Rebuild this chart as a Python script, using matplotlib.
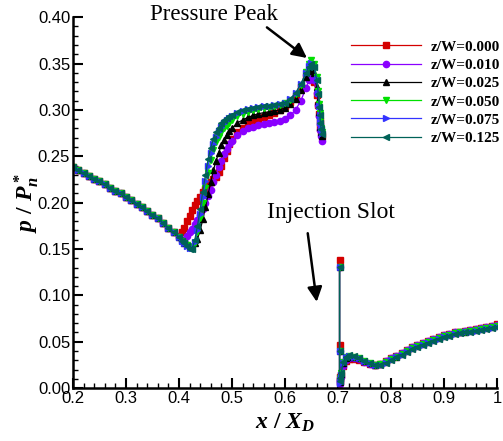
import matplotlib
matplotlib.use("Agg")
import matplotlib.pyplot as plt
import numpy as np

plt.rcParams['mathtext.fontset'] = 'custom'
plt.rcParams['mathtext.it'] = 'Liberation Serif:italic:bold'
plt.rcParams['mathtext.rm'] = 'Liberation Serif:bold'
plt.rcParams['mathtext.bf'] = 'Liberation Serif:bold'

# shared upstream part (all cases overlap here)
x_common = [0.20, 0.21, 0.22, 0.23, 0.24, 0.25, 0.26, 0.27, 0.28, 0.29,
            0.30, 0.31, 0.32, 0.33, 0.34, 0.35, 0.36, 0.37, 0.38]
y_common = [0.238, 0.235, 0.232, 0.229, 0.226, 0.223, 0.220, 0.216, 0.213, 0.210,
            0.206, 0.203, 0.199, 0.195, 0.191, 0.187, 0.183, 0.178, 0.173]

# separation / peak region
x_up = [0.39, 0.40, 0.405, 0.41, 0.415, 0.42, 0.425, 0.43, 0.435, 0.44,
        0.445, 0.45, 0.455, 0.46, 0.465, 0.47, 0.475, 0.48, 0.485, 0.49,
        0.495, 0.50, 0.51, 0.52, 0.53, 0.54, 0.55, 0.56, 0.57, 0.58,
        0.59, 0.60, 0.61, 0.62, 0.63, 0.64, 0.645, 0.65, 0.655, 0.66,
        0.663, 0.665, 0.666, 0.667, 0.668, 0.669]
up_000 = [0.168, 0.164, 0.168, 0.173, 0.180, 0.186, 0.192, 0.197, 0.202, 0.206,
          0.211, 0.215, 0.219, 0.222, 0.225, 0.228, 0.233, 0.240, 0.248, 0.256,
          0.263, 0.269, 0.276, 0.281, 0.285, 0.288, 0.290, 0.292, 0.295, 0.297,
          0.300, 0.304, 0.309, 0.315, 0.325, 0.336, 0.340, 0.338, 0.330, 0.316,
          0.305, 0.296, 0.288, 0.281, 0.276, 0.272]
up_010 = [0.168, 0.163, 0.159, 0.160, 0.164, 0.168, 0.172, 0.177, 0.181, 0.187,
          0.193, 0.200, 0.207, 0.214, 0.222, 0.230, 0.238, 0.245, 0.252, 0.258,
          0.263, 0.267, 0.273, 0.277, 0.280, 0.282, 0.284, 0.285, 0.286, 0.287,
          0.288, 0.290, 0.294, 0.300, 0.310, 0.324, 0.332, 0.336, 0.332, 0.318,
          0.305, 0.293, 0.285, 0.278, 0.272, 0.266]
up_025 = [0.168, 0.163, 0.160, 0.157, 0.155, 0.153, 0.153, 0.156, 0.161, 0.170,
          0.182, 0.195, 0.209, 0.222, 0.235, 0.245, 0.254, 0.262, 0.268, 0.273,
          0.277, 0.280, 0.286, 0.289, 0.292, 0.294, 0.296, 0.297, 0.298, 0.299,
          0.300, 0.302, 0.306, 0.312, 0.322, 0.336, 0.342, 0.344, 0.340, 0.325,
          0.310, 0.298, 0.290, 0.282, 0.276, 0.272]
up_050 = [0.168, 0.163, 0.159, 0.156, 0.154, 0.152, 0.152, 0.157, 0.168, 0.183,
          0.200, 0.216, 0.232, 0.246, 0.257, 0.265, 0.271, 0.276, 0.280, 0.283,
          0.286, 0.289, 0.293, 0.296, 0.298, 0.300, 0.301, 0.302, 0.303, 0.304,
          0.305, 0.307, 0.311, 0.317, 0.327, 0.341, 0.349, 0.354, 0.350, 0.335,
          0.320, 0.306, 0.297, 0.288, 0.281, 0.276]
up_075 = [0.168, 0.163, 0.159, 0.156, 0.153, 0.151, 0.151, 0.158, 0.171, 0.188,
          0.206, 0.223, 0.240, 0.253, 0.263, 0.271, 0.277, 0.282, 0.286, 0.289,
          0.291, 0.293, 0.297, 0.299, 0.301, 0.302, 0.303, 0.304, 0.304, 0.305,
          0.306, 0.308, 0.312, 0.318, 0.328, 0.340, 0.347, 0.351, 0.347, 0.333,
          0.318, 0.304, 0.295, 0.287, 0.280, 0.275]
up_125 = [0.168, 0.163, 0.159, 0.156, 0.153, 0.150, 0.150, 0.160, 0.175, 0.193,
          0.212, 0.230, 0.247, 0.259, 0.269, 0.276, 0.281, 0.286, 0.289, 0.291,
          0.293, 0.295, 0.298, 0.300, 0.301, 0.302, 0.303, 0.304, 0.304, 0.305,
          0.306, 0.308, 0.312, 0.318, 0.328, 0.340, 0.346, 0.350, 0.346, 0.332,
          0.317, 0.303, 0.294, 0.286, 0.279, 0.274]

# injection slot and downstream
x_down = [0.703, 0.703, 0.703, 0.704, 0.706, 0.71, 0.715, 0.72, 0.73, 0.74,
          0.75, 0.76, 0.77, 0.78, 0.79, 0.80, 0.81, 0.82, 0.83, 0.84,
          0.85, 0.86, 0.87, 0.88, 0.89, 0.90, 0.91, 0.92, 0.93, 0.94,
          0.95, 0.96, 0.97, 0.98, 0.99, 1.00]
dn_000 = [0.138, 0.046, 0.012, 0.008, 0.014, 0.024, 0.029, 0.031, 0.031, 0.030,
          0.028, 0.026, 0.025, 0.026, 0.029, 0.032, 0.035, 0.038, 0.041, 0.044,
          0.046, 0.049, 0.051, 0.053, 0.055, 0.057, 0.058, 0.060, 0.061, 0.062,
          0.063, 0.064, 0.065, 0.066, 0.067, 0.069]
dn_010 = [0.131, 0.040, 0.008, 0.004, 0.012, 0.024, 0.030, 0.032, 0.032, 0.031,
          0.028, 0.026, 0.025, 0.026, 0.029, 0.032, 0.035, 0.038, 0.041, 0.044,
          0.046, 0.049, 0.051, 0.053, 0.055, 0.057, 0.058, 0.060, 0.061, 0.062,
          0.063, 0.064, 0.065, 0.066, 0.067, 0.068]
dn_025 = [0.131, 0.040, 0.010, 0.007, 0.015, 0.027, 0.032, 0.034, 0.034, 0.032,
          0.029, 0.027, 0.025, 0.026, 0.028, 0.031, 0.034, 0.037, 0.040, 0.043,
          0.045, 0.048, 0.050, 0.052, 0.054, 0.056, 0.057, 0.059, 0.060, 0.061,
          0.062, 0.063, 0.064, 0.065, 0.066, 0.067]
dn_050 = [0.131, 0.040, 0.011, 0.008, 0.016, 0.028, 0.033, 0.035, 0.034, 0.032,
          0.029, 0.027, 0.025, 0.026, 0.028, 0.031, 0.034, 0.037, 0.040, 0.043,
          0.045, 0.048, 0.050, 0.052, 0.054, 0.056, 0.057, 0.059, 0.060, 0.061,
          0.062, 0.063, 0.064, 0.065, 0.066, 0.067]
dn_075 = [0.131, 0.040, 0.009, 0.005, 0.014, 0.027, 0.033, 0.035, 0.034, 0.032,
          0.029, 0.027, 0.025, 0.025, 0.027, 0.030, 0.033, 0.036, 0.039, 0.042,
          0.044, 0.047, 0.049, 0.051, 0.053, 0.055, 0.056, 0.058, 0.059, 0.060,
          0.061, 0.062, 0.063, 0.064, 0.065, 0.066]
dn_125 = [0.131, 0.040, 0.011, 0.008, 0.016, 0.028, 0.034, 0.036, 0.035, 0.032,
          0.029, 0.027, 0.025, 0.025, 0.027, 0.030, 0.033, 0.036, 0.039, 0.042,
          0.044, 0.047, 0.049, 0.051, 0.053, 0.055, 0.056, 0.058, 0.059, 0.060,
          0.061, 0.062, 0.063, 0.064, 0.065, 0.066]

labels = ['z/W=0.000', 'z/W=0.010', 'z/W=0.025', 'z/W=0.050', 'z/W=0.075', 'z/W=0.125']
ups = [up_000, up_010, up_025, up_050, up_075, up_125]
dns = [dn_000, dn_010, dn_025, dn_050, dn_075, dn_125]
colors = ['#d40000', '#8a00ff', '#000000', '#00e000', '#3333ff', '#006258']
markers = ['s', 'o', '^', 'v', '>', '<']

fig = plt.figure(figsize=(5.03, 4.41), dpi=100)
ax = fig.add_axes([0.145, 0.120, 0.843, 0.841])

for lab, yu, yd, c, m in zip(labels, ups, dns, colors, markers):
    xs = x_common + x_up + [np.nan] + x_down
    ys = y_common + yu + [np.nan] + yd
    ax.plot(xs, ys, color=c, marker=m, ms=4.5, mec=c, lw=0.9, label=lab)

ax.set_xlim(0.2, 1.0)
ax.set_ylim(0.0, 0.40)
ax.set_xticks(np.arange(0.2, 1.01, 0.1))
ax.set_xticklabels(['0.2', '0.3', '0.4', '0.5', '0.6', '0.7', '0.8', '0.9', '1'])
ax.set_yticks(np.arange(0, 0.401, 0.05))
ax.set_yticklabels(['%.2f' % v for v in np.arange(0, 0.401, 0.05)])
ax.set_xticks(np.arange(0.2, 1.001, 0.02), minor=True)
ax.set_yticks(np.arange(0, 0.401, 0.01), minor=True)
ax.tick_params(which='major', direction='in', length=7, width=1.5, labelsize=12, pad=2)
ax.tick_params(which='minor', direction='in', length=3.5, width=1.0)
for lbl in ax.get_xticklabels() + ax.get_yticklabels():
    lbl.set_fontfamily('Liberation Sans')
ax.spines['top'].set_visible(False)
ax.spines['right'].set_visible(False)
ax.spines['left'].set_linewidth(1.8)
ax.spines['bottom'].set_linewidth(1.8)

ax.set_xlabel(r'$x\ /\ X_D$', fontsize=17, labelpad=3)
ax.set_ylabel(r'$p\ /\ P^*_n$', fontsize=17, labelpad=-2)

leg = ax.legend(loc='upper left', bbox_to_anchor=(351 / 503, 1 - 40 / 441),
                bbox_transform=fig.transFigure, frameon=False, numpoints=1,
                handlelength=4.6, handletextpad=0.6, labelspacing=0.3,
                borderpad=0, borderaxespad=0,
                prop={'family': 'Liberation Serif', 'weight': 'bold', 'size': 11})

ax.text(0.466, 0.403, 'Pressure Peak', ha='center', va='center', fontsize=16.5,
        family='Liberation Serif', clip_on=False)
ax.annotate('', xy=(0.6415, 0.356), xytext=(0.566, 0.389),
            arrowprops=dict(arrowstyle='-|>', color='black', lw=1.8,
                            mutation_scale=22, shrinkA=0, shrinkB=0))
ax.text(0.687, 0.189, 'Injection Slot', ha='center', va='center', fontsize=17,
        family='Liberation Serif')
ax.annotate('', xy=(0.660, 0.093), xytext=(0.643, 0.167),
            arrowprops=dict(arrowstyle='-|>', color='black', lw=1.8,
                            mutation_scale=22, shrinkA=0, shrinkB=0))

fig.savefig('out.png', dpi=100)
